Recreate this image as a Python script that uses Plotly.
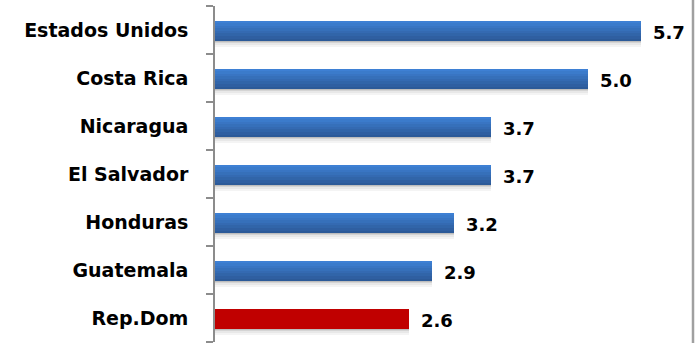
import plotly.graph_objects as go

countries = ["Estados Unidos", "Costa Rica", "Nicaragua", "El Salvador", "Honduras", "Guatemala", "Rep.Dom"]
values = [5.7, 5.0, 3.7, 3.7, 3.2, 2.9, 2.6]
value_labels = ["5.7", "5.0", "3.7", "3.7", "3.2", "2.9", "2.6"]
highlight = "Rep.Dom"

blue_top = (62, 128, 212)
blue_bot = (44, 90, 152)
red = "#c00000"

FONT = "DejaVu Sans"
fig = go.Figure()

bar_w = 0.42
bar_off = -0.19
# shadow bands under bars
shadow = [("#bdbdbd", 0.04), ("#d4d4d4", 0.04), ("#e8e8e8", 0.04), ("#f4f4f4", 0.03)]
pos = bar_off + bar_w - 0.02
for col, w in shadow:
    fig.add_trace(go.Bar(y=countries, x=values, orientation="h", width=w, offset=pos,
                         marker=dict(color=col, line=dict(width=0)), hoverinfo="skip", showlegend=False))
    pos += w

n = 8
bw = bar_w / n
for i in range(n):
    t = i / (n - 1)
    c = tuple(int(round(blue_top[k] + (blue_bot[k] - blue_top[k]) * t)) for k in range(3))
    cs = "rgb(%d,%d,%d)" % c
    colors = [red if name == highlight else cs for name in countries]
    fig.add_trace(go.Bar(y=countries, x=values, orientation="h", width=bw + 0.005, offset=bar_off + i * bw,
                         marker=dict(color=colors, line=dict(width=0)), hoverinfo="skip", showlegend=False))

for name, v, lab in zip(countries, values, value_labels):
    fig.add_annotation(x=v, y=name, text="<b>%s</b>" % lab, showarrow=False, xanchor="left",
                       xshift=10, yshift=-2, font=dict(family=FONT, size=18, color="black"))

fig.add_shape(type="line", xref="paper", yref="paper", x0=1, x1=1, y0=-0.1, y1=1.1,
              line=dict(color="#a0a0a0", width=2.5))

ncat = len(countries)
boundaries = [i - 0.5 for i in range(ncat + 1)]

# empty helper trace so the tick-mark axis (y2) is rendered
fig.add_trace(go.Scatter(x=[None], y=[None], yaxis="y2", mode="markers", hoverinfo="skip",
                         showlegend=False))

fig.update_layout(
    width=698, height=343,
    margin=dict(l=215, r=5, t=6, b=1),
    barmode="overlay", bargap=0,
    plot_bgcolor="white", paper_bgcolor="white",
    xaxis=dict(range=[0, 6.4], visible=False, showgrid=False, zeroline=False),
    yaxis=dict(range=[ncat - 0.5, -0.5], showline=False, ticks="outside", ticklen=2,
               tickcolor="rgba(0,0,0,0)",
               showgrid=False, automargin=False, ticksuffix="   ",
               tickfont=dict(family=FONT, size=19, color="black", weight="bold")),
    yaxis2=dict(overlaying="y", side="left", type="linear", range=[ncat - 0.5, -0.5],
                tickmode="array", tickvals=boundaries, showticklabels=False,
                showline=True, linecolor="#8c8c8c", linewidth=2,
                ticks="outside", ticklen=7, tickwidth=2, tickcolor="#8c8c8c",
                showgrid=False, zeroline=False, automargin=False, anchor="x"),
)

fig.write_html("out.html", config={"displayModeBar": False},
               post_script="document.body.style.margin='0';document.body.style.overflow='hidden';")
